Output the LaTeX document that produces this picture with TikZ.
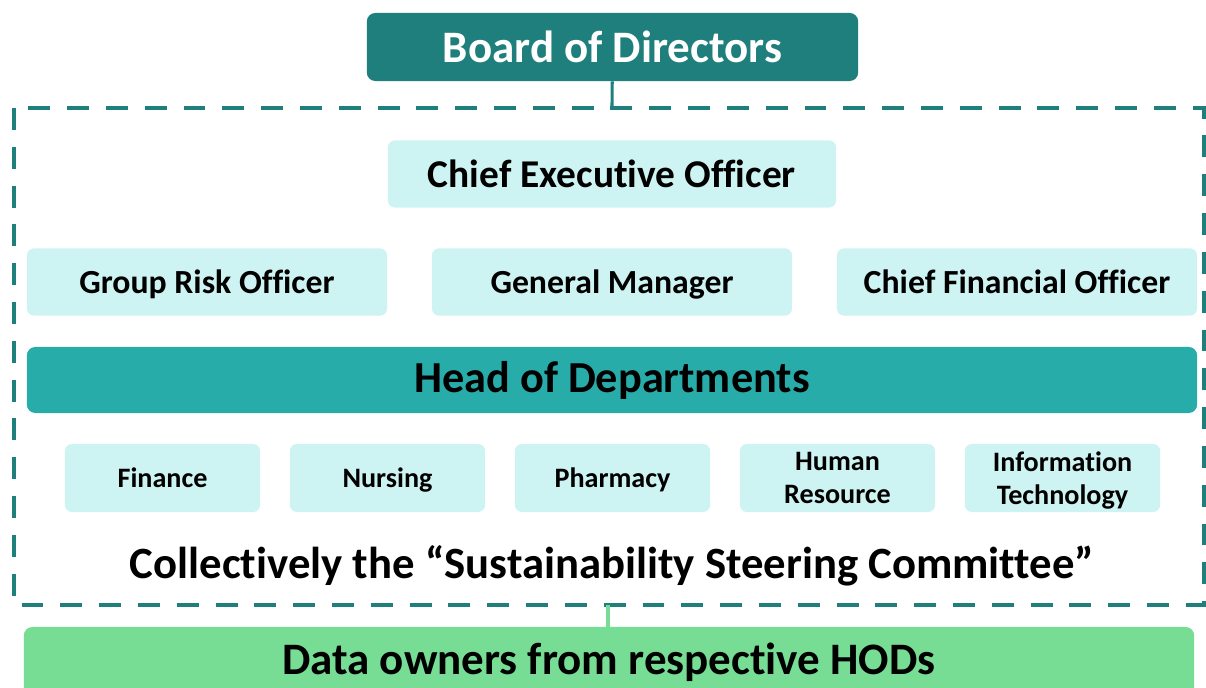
\documentclass[tikz,border=0pt]{standalone}
\usepackage{fontspec}
\setmainfont{Carlito}[Ligatures=NoCommon]
\usetikzlibrary{positioning}
\definecolor{boardteal}{HTML}{1F7F7C}
\definecolor{paleaqua}{HTML}{CDF3F2}
\definecolor{hodteal}{HTML}{27ACAA}
\definecolor{ownergreen}{HTML}{77DD95}
\tikzset{
  officebox/.style={fill=paleaqua, rounded corners=5pt, minimum width=9cm, minimum height=1.68cm, text depth=0pt, font=\bfseries\fontsize{24}{28}\selectfont},
  deptbox/.style={fill=paleaqua, rounded corners=5pt, minimum width=4.88cm, minimum height=1.7cm, text depth=0pt, align=center, font=\bfseries\fontsize{20}{23.5}\selectfont},
}
\begin{document}
\begin{tikzpicture}[x=0.025cm,y=-0.025cm]
  \useasboundingbox (0,0) rectangle (1206,688);
  % committee frame
  \draw[boardteal, line width=2.8pt, dash pattern=on 15.6pt off 12pt] (14,108) rectangle (1204,605);
  \coordinate (frametop) at (612,108);
  \coordinate (framebot) at (608,605);
  \node[fill=boardteal, rounded corners=6pt, minimum width=12.28cm, minimum height=1.7cm, text=white, font=\bfseries\fontsize{32}{36}\selectfont] (board) at (612.5,47) {Board of Directors};
  \node[officebox, minimum width=11.2cm, font=\bfseries\fontsize{28}{32}\selectfont] (ceo) at (612,174) {Chief Executive Officer};
  \node[officebox] (gro) at (207,282) {Group Risk Officer};
  \node[officebox] (gm)  at (612,282) {General Manager};
  \node[officebox] (cfo) at (1017,282) {Chief Financial Officer};
  \node[fill=hodteal, rounded corners=6pt, minimum width=29.25cm, minimum height=1.65cm, font=\bfseries\fontsize{31.5}{36}\selectfont] (hod) at (612,380) {Head of Departments};
  \node[deptbox] (fin) at (162.5,478) {Finance};
  \node[deptbox] (nur) at (387.5,478) {Nursing};
  \node[deptbox] (pha) at (612.5,478) {Pharmacy};
  \node[deptbox] (hr)  at (837.5,478) {Human\\Resource};
  \node[deptbox] (it)  at (1062.5,478) {Information\\Technology};
  \node[font=\bfseries\fontsize{31.8}{36}\selectfont] (ssc) at (612,566) {Collectively the “Sustainability Steering Committee”};
  \node[fill=ownergreen, rounded corners=6pt, minimum width=29.25cm, minimum height=1.75cm, font=\bfseries\fontsize{32}{36}\selectfont] (owners) at (609,662) {Data owners from respective HODs};
  \draw[boardteal, line width=2.2pt] (board) -- (frametop);
  \draw[ownergreen, line width=2.2pt] (framebot) -- (framebot |- owners.north);
\end{tikzpicture}
\end{document}
